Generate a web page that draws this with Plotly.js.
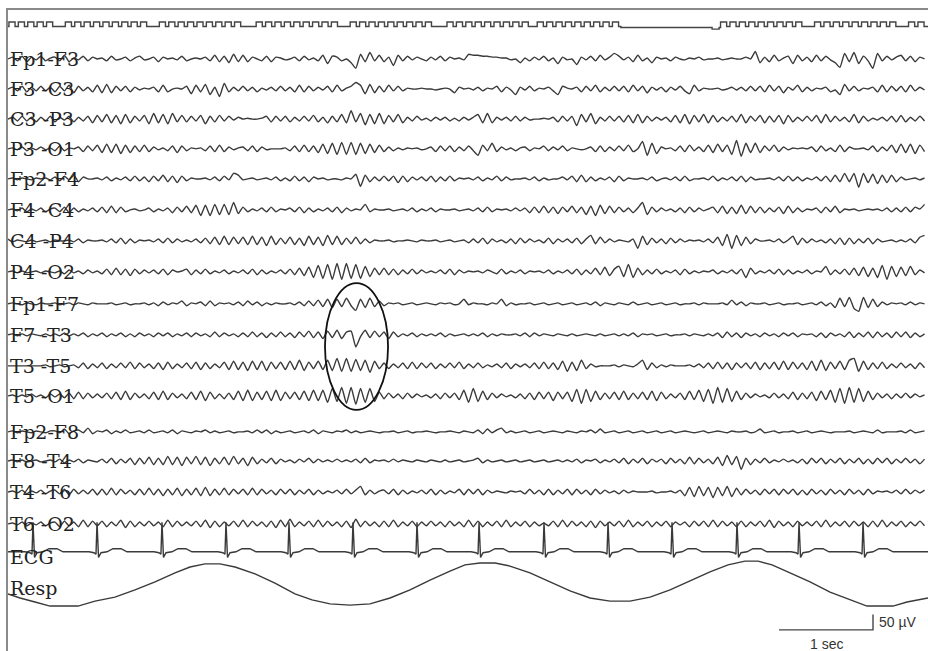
<!DOCTYPE html>
<html>
<head>
<meta charset="utf-8">
<script src="https://cdn.plot.ly/plotly-3.0.1.min.js"></script>
<style>
  html, body { margin: 0; padding: 0; background: #fff; }
  #chart { width: 928px; height: 651px; }
</style>
</head>
<body>
<div id="chart"></div>
<script>
// ---------- DATA (µV, sampled every 0.05 s) ----------
const sampleInterval = 0.05;

const channelLabels = ["Fp1-F3","F3 -C3","C3 -P3","P3 -O1","Fp2-F4","F4 -C4","C4 -P4","P4 -O2",
  "Fp1-F7","F7 -T3","T3 -T5","T5 -O1","Fp2-F8","F8 -T4","T4 -T6","T6 -O2"];

const fp1_f3 = [0,6,-6,9,-9,6,-3,9,-6,3, 6,-6,12,-9,3,-3,9,-6,6,0, 3,-6,9,-3,0,6,-6,3,9,-3, 0,6,-9,6,0,3,-3,9,-6,0,
 3,0,6,-6,12,-9,9,-12,15,-9, 12,-9,6,0,-6,9,-9,6,3,-3, 0,6,-6,9,-3,3,-6,12,-15,9, 6,-6,0,-12,-30,15,-9,21,-6,12,
 -9,6,-21,12,-6,9,-3,6,0,-6, 6,-3,9,-6,6,0,3,-3,15,12, 12,9,9,6,6,3,3,-3,0,-12, 3,-6,6,-3,9,-6,3,-15,6,-3,
 0,-18,6,-3,9,-6,12,-3,6,18, 9,-3,6,-9,12,-6,3,-12,6,0, 3,-6,6,0,-3,3,0,6,-3,0, 0,3,-3,0,3,0,0,6,0,24,
 -12,6,-9,12,-6,3,9,-15,12,-6, 6,-9,12,-6,9,-3,-12,-27,18,-9, 21,-15,9,-6,-30,18,-6,9,-3,6, 12,-6,9,-9,6,0];

const f3_c3 = [0,6,-6,9,-9,6,-6,9,-6,6, -9,9,-6,12,-12,9,-6,6,-9,12, -12,15,-12,9,-6,9,-9,6,-3,3, 0,6,-9,12,-9,0,3,0,9,-15,
 12,-9,15,-18,6,-24,18,-9,6,-6, 9,-6,6,-9,3,-3,6,-6,9,-6, 6,-9,12,-9,9,-6,6,-3,9,-9, 12,-6,3,9,21,12,-15,15,-12,9,
 -9,12,-6,9,-6,3,0,0,3,0, 0,-3,0,3,0,-12,6,0,3,-3, 6,-6,3,0,9,-9,6,-3,-18,6, -3,9,-6,3,0,6,-6,-18,9,3,
 0,6,-9,9,-6,12,-9,6,-6,9, -6,9,-9,12,-6,9,-12,6,-3,6, -9,6,-3,9,-6,-15,12,-6,3,0, 0,3,-3,0,6,-3,6,-6,9,-6,
 9,-9,12,-6,9,-12,6,-3,12,-9, 6,-6,3,0,6,-9,-3,-18,15,-6, 9,-6,3,0,6,-9,12,-9,9,-6, 9,-9,12,-6,6,-3];

const c3_p3 = [0,6,-6,9,-6,6,-9,6,-6,9, -9,6,-3,9,-9,6,-6,9,-12,12, -9,15,-12,12,-15,15,-12,9,-6,12, -15,18,-12,15,-15,18,-9,12,-9,9,
 -6,12,-15,9,-9,12,-6,9,-3,6, 0,3,0,0,3,9,-9,9,-6,9, -9,6,-6,9,-6,12,-9,6,-12,9, -9,15,-12,27,-9,18,-18,15,-15,18,
 -15,12,-9,15,-12,6,-6,9,-3,3, -6,6,-3,6,-6,3,-6,6,-3,6, 15,-12,18,-12,6,-3,6,-6,9,-6, 6,-3,0,0,3,0,6,-9,9,-6,
 9,-21,15,-9,18,-15,6,-6,9,-6, 9,-9,12,-12,15,-12,9,-6,6,-3, 6,-9,12,-12,15,-15,12,-9,15,-12, 12,-9,6,-6,9,-9,15,-12,9,-6,
 12,-12,9,-9,12,-15,12,-9,6,-6, 9,-6,12,-12,15,-9,9,-6,6,-9, 15,-12,9,-6,3,-3,6,-6,9,-9, 12,-9,6,-6,9,-6];

const p3_o1 = [0,3,-3,6,-6,3,-3,6,-3,3, -6,9,-6,3,0,6,-9,9,-6,12, -12,15,-12,15,-15,12,-12,9,-9,12, -9,6,-3,3,-6,9,-12,9,-6,3,
 0,3,-6,9,-9,12,-9,6,-3,3, 6,-6,9,-9,6,-3,0,0,0,3, -6,9,-9,12,-9,9,-12,15,-15,18, -18,21,-18,21,-18,18,-15,15,-12,12,
 -9,6,-6,3,-3,3,0,3,-3,0, 6,-9,9,-6,9,-9,6,-6,9,-6, -21,12,-6,18,-9,6,-3,3,-6,3, 6,-6,3,0,9,-6,6,-3,9,-6,
 3,0,-3,0,6,-9,9,-9,6,-6, 9,-6,12,-9,0,24,-21,18,-15,6, 0,3,-6,9,-9,12,-6,6,-9,12, -12,15,-9,12,-18,27,-24,18,-12,18,
 -12,9,-6,12,-9,6,-3,3,0,3, 0,6,-9,9,-6,3,-9,12,-9,6, 0,0,3,-3,9,-9,6,-6,12,-12, 15,-12,15,-15,12,-9];

const fp2_f4 = [0,3,-3,3,0,-3,3,0,3,-3, 6,-6,9,-3,12,-9,6,0,0,3, -3,6,-6,3,-3,6,-6,9,-6,6, -9,9,-6,12,-9,9,-12,9,-6,3,
 0,0,3,-3,6,-6,9,-3,18,12, -3,0,3,-3,0,3,-3,6,-6,3, -6,9,-6,6,-9,6,0,3,-3,0, 0,-3,3,0,15,-24,12,-9,6,-6,
 9,-6,9,-12,9,-9,6,-3,6,-6, 9,-9,6,-6,9,-6,3,0,3,-3, 6,-6,3,-3,9,-6,6,-3,0,0, 3,-3,6,-6,3,-3,0,0,6,-3,
 9,-9,12,-9,6,-6,3,-3,6,-9, 9,-6,3,0,0,3,-3,6,-6,0, 3,-3,6,-6,9,-6,0,0,3,-3, 9,-6,3,-3,6,-6,9,-9,6,-3,
 0,0,3,-3,6,-6,9,-6,6,-6, 3,-3,6,-6,9,-9,12,-9,18,-9, 18,-27,18,-12,15,-15,12,-12,12,-9, 6,-3,0,3,-3,3];

const f4_c4 = [0,3,-3,6,-6,3,-3,6,-6,3, 6,-6,9,-9,6,-6,3,-3,6,-6, 9,-9,12,-9,9,-6,0,3,-3,0, 6,-6,3,-3,6,-9,9,-6,12,-9,
 15,-18,15,-18,18,-15,18,-15,24,-12, 9,-6,3,-3,6,-6,9,-6,3,0, 6,-6,9,-9,6,-6,3,-3,6,-6, 9,-9,6,-3,3,0,18,-6,3,0,
 0,3,-3,0,3,-3,6,-6,3,-3, 6,-6,3,0,0,3,-3,0,3,-3, 6,-6,9,-6,3,0,3,-3,6,-3, 6,-9,9,-9,12,-9,9,-12,9,-6,
 12,-9,9,-15,12,-18,15,-12,12,-9, 9,-6,6,-9,6,24,-15,9,-6,6, -3,3,-6,6,-9,9,-6,6,-3,3, 9,-9,12,-12,9,-12,15,-12,12,-9,
 9,-9,6,-6,9,-12,12,-9,6,-6, 3,0,6,-9,9,-6,12,-9,3,0, 3,-3,0,3,0,3,-3,6,-6,6, -6,9,-6,9,3,18];

const c4_p4 = [6,-3,3,0,-3,3,-3,0,3,-3, 3,0,0,3,-3,6,-6,3,0,0, 3,-3,6,-6,9,-9,6,-6,3,0, 3,-3,6,-6,9,-6,6,-3,3,-3,
 6,-6,9,-9,12,-12,15,-12,12,-9, 12,-12,15,-12,12,-15,15,-12,9,-9, 12,-12,9,-15,15,-12,12,-15,18,-12, 15,-12,9,-9,12,-9,6,-6,3,0,
 0,3,-3,0,0,3,0,-3,3,0, 0,3,-3,0,3,-3,0,3,-6,6, -6,9,-9,6,-3,3,-6,6,-9,9, -6,6,-3,3,-6,9,-9,6,-3,6,
 -6,9,-9,6,18,-9,12,-6,6,-3, 3,0,-3,6,-24,15,-12,9,-6,6, -9,9,-6,6,-3,3,0,3,-3,6, -6,12,-15,21,-24,18,-15,12,-9,6,
 0,0,3,-3,6,-6,3,15,-12,9, -6,6,-3,3,-6,6,-9,9,-12,9, -9,6,-6,9,-9,6,-3,0,3,-3, 3,-3,6,-6,12,18];

const p4_o2 = [0,3,-3,3,-3,0,3,-3,3,0, -3,3,-6,6,-3,3,-6,6,-3,3, -6,9,-9,12,-9,9,-12,9,-6,6, -3,6,-6,9,-9,6,0,3,9,-9,
 6,-6,9,-6,3,-3,6,-6,3,-3, 6,-6,9,-9,6,-6,3,-3,6,-6, 9,-9,12,-12,15,-18,21,-21,24,-24, 27,-24,27,-21,24,-21,18,-15,12,-9,
 12,-9,9,-9,6,-6,9,-6,6,-3, 3,-3,6,-6,9,-9,6,-3,3,0, 3,-3,6,0,-6,9,-6,3,-3,6, -6,3,0,3,-3,6,-6,3,-3,6,
 -6,9,-9,6,-6,12,-9,15,-12,9, 18,-15,24,-18,12,-9,6,-6,9,-6, 3,-3,6,-9,9,-6,3,-3,3,0, 6,-6,3,-3,6,-6,9,-18,12,-6,
 3,-3,6,-6,9,-9,6,-6,3,-3, 6,-6,3,0,18,-9,6,-6,9,-9, 12,-12,15,-15,12,-18,21,-24,18,-15, 15,-12,18,-9,6,-3];

const fp1_f7 = [0,3,0,-3,3,0,-3,3,0,0, 3,-3,0,3,-3,3,0,-3,3,0, 0,0,3,-3,0,3,-3,0,0,3, -3,3,-6,6,-3,3,0,9,-6,3,
 0,6,-6,9,-6,3,0,3,-3,6, -6,9,-3,6,-6,3,-3,3,0,0, 3,-3,6,-6,9,-6,12,-9,15,-12, 15,-9,18,-6,-21,15,-12,18,-9,9,
 -6,3,0,3,-3,0,3,-3,0,3, 0,-3,3,0,3,-3,0,15,-3,3, 0,0,-3,3,0,15,-6,3,-3,0, 0,3,-3,0,3,-3,0,3,-3,0,
 3,-3,0,3,-3,6,-6,3,0,-3, 3,0,-3,6,-3,0,3,-3,0,3, -3,0,3,-3,0,0,3,-3,3,0, 0,0,3,-3,12,-3,6,-6,3,0,
 0,3,-3,0,3,-3,0,0,3,-3, 0,3,-3,6,-6,3,-12,18,-9,21, -15,-24,21,-12,15,-9,6,-3,3,0, 3,-3,6,-3,3,0];

const f7_t3 = [0,3,-3,3,-3,3,0,-3,3,-3, 3,-3,6,-3,3,-3,6,-6,3,-3, 6,-6,3,-3,6,-6,3,-6,6,-3, 3,-6,6,-3,6,-6,3,-3,6,-6,
 6,-3,3,-6,9,-6,6,-3,3,-6, 6,-6,9,-6,6,-9,6,-6,9,-6, 6,-9,9,-6,12,-9,9,-12,12,-9, 15,-12,9,12,-39,-6,15,-9,12,-6,
 9,-12,9,-6,3,-3,6,-6,3,-3, 3,-3,6,-6,3,-3,0,3,-3,3, -3,6,-6,3,-3,3,0,0,3,-3, 6,-6,6,-3,3,0,-3,3,0,-3,
 3,-3,0,3,0,-3,3,-3,0,3, -3,3,-3,6,-6,3,0,3,-3,0, 3,-3,0,0,3,-3,3,0,-3,3, -3,6,-9,9,-6,6,-9,6,-3,3,
 -6,6,-3,3,-6,6,-3,6,-6,3, 0,3,-6,6,-9,6,-3,3,-6,9, -9,6,-6,9,-9,9,-6,6,-9,9, -6,9,-9,6,-6,3];

const t3_t5 = [0,0,0,0,0,0,0,0,3,-3, 0,3,-3,0,3,-6,9,-9,6,-6, 9,-9,6,-6,9,-6,12,-9,9,-6, 6,-9,9,-12,12,-9,6,-6,9,-9,
 12,-12,9,-9,6,-6,12,-12,15,-12, 12,-15,15,-12,15,-15,12,-9,12,-12, 15,-12,18,-15,12,-9,15,-12,18,-15, 24,-18,24,-18,21,-15,18,-21,15,-9,
 9,-9,6,-6,9,-9,12,-9,9,-6, 9,-9,6,-6,9,-6,12,-9,6,-6, 9,-6,3,-3,6,-6,9,-9,6,-3, 6,-6,9,-9,12,-9,9,-12,15,-18,
 12,-15,18,-9,6,-3,0,0,0,3, -3,3,0,-3,6,18,-12,9,-6,3, -3,3,0,0,0,3,-3,6,-6,9, -9,12,-9,9,-12,9,-6,9,-9,12,
 -12,9,-9,12,-12,15,-12,12,-9,9, -12,15,-15,18,-15,12,-9,15,-12,18, 24,-18,15,-12,9,-9,12,-9,6,-6, 9,-6,6,-9,9,-6];

const t5_o1 = [0,3,-3,3,-3,6,-3,3,-6,6, -3,6,-6,9,-9,12,-9,9,-6,6, -6,9,-9,12,-12,15,-12,9,-6,6, -9,12,-12,15,-12,9,-6,6,-9,12,
 -12,15,-15,12,-9,6,-9,9,-12,15, -15,18,-15,12,-12,15,-15,18,-15,12, -9,12,-12,15,-15,18,-15,18,-21,24, -18,27,-24,27,-27,24,-21,24,-18,12,
 -9,9,-6,6,-9,9,-6,6,-3,3, -6,6,-9,9,-6,9,-12,18,-21,24, -18,15,-12,9,-6,6,-3,3,-6,6, -9,9,-12,12,-9,12,-15,12,-9,12,
 -18,21,-24,21,-18,15,-12,9,-9,12, -12,15,-12,9,-9,12,-12,15,-15,12, -9,6,-6,9,-12,15,-12,18,-18,21, -24,27,-21,24,-18,15,-12,9,-6,6,
 -3,3,-6,9,-6,6,-9,12,-12,9, -9,12,-15,15,-12,18,-21,24,-24,27, -21,24,-18,15,-12,9,-6,6,-9,6, -6,9,-6,6,-3,3];

const fp2_f8 = [0,3,-3,3,0,-3,3,0,-3,3, 3,-3,9,-6,3,6,-3,12,-6,3, 0,6,-6,3,-3,6,-3,0,3,-3, 6,-3,0,3,-3,6,-6,3,0,-3,
 3,0,6,-3,3,-3,0,3,-3,0, 0,3,-3,6,-3,6,-6,3,-3,0, 3,-3,0,3,-3,6,-6,3,0,-3, 3,0,6,-3,3,-3,0,3,0,-3,
 0,0,3,-3,0,3,-3,0,0,3, 0,-3,0,0,3,0,-3,3,0,-3, 6,-6,9,-3,6,12,-3,3,-3,0, 3,-3,0,3,-3,0,3,0,-3,3,
 0,-3,3,0,6,-3,9,-3,0,3, -3,0,3,-3,0,3,-3,0,3,-3, 0,3,-3,0,3,0,-3,0,3,-3, 0,3,0,-3,3,0,0,3,-3,0,
 9,-3,0,3,-3,0,0,3,-3,0, 3,-3,0,3,0,-3,0,0,0,3, -3,0,3,0,-3,6,-3,0,0,0, 3,-3,6,-3,0,3];

const f8_t4 = [0,3,-3,3,-3,0,3,-3,0,3, -3,6,-6,3,-3,6,-6,3,0,-3, 6,-6,9,-9,6,-6,9,-12,9,-9, 12,-12,9,-12,15,-12,12,-15,12,-9,
 15,-12,12,-15,9,-9,12,-12,15,-9, 9,-15,12,-9,6,-6,9,-9,6,-3, 3,-6,6,-3,9,-6,6,-3,3,-3, 6,-3,3,-3,6,-6,9,-6,3,0,
 3,-3,6,-3,3,0,-3,3,0,-3, 3,0,-3,3,-3,0,3,-3,0,3, 9,-6,3,-3,0,3,-3,0,3,-3, 0,3,-3,0,3,-3,0,3,-3,3,
 -3,6,-6,3,0,6,-6,3,-3,6, -6,9,-9,6,-6,9,-9,6,-3,6, -9,9,-6,6,-9,12,-9,9,-6,6, -9,12,-15,18,-12,15,-27,9,-12,6,
 -6,9,-6,3,-3,6,-3,3,-6,6, -9,9,-6,9,-9,6,-6,9,-9,6, -6,9,-9,6,-9,9,-6,9,-9,6, -6,9,-6,6,-9,6];

const t4_t6 = [0,3,-3,6,-6,3,-3,6,-6,3, 6,-6,9,-9,9,-6,6,-6,9,-9, 9,-9,12,-9,9,-6,6,-9,9,-9, 12,-9,9,-12,9,-9,12,-12,9,-9,
 12,-12,15,-12,9,-9,12,-9,9,-6, 9,-9,12,-9,9,-6,6,-9,9,-6, 9,-9,6,-6,9,-9,6,-6,3,-3, 6,-6,9,-6,6,18,-9,6,-6,3,
 6,-6,9,-9,6,-6,3,-3,6,-6, 9,-9,6,-6,3,-3,9,-9,9,-6, 9,-9,6,-3,3,0,-3,3,0,3, -6,9,-6,6,-9,9,-9,6,-6,9,
 -9,9,-6,6,-9,9,-6,6,-3,3, -6,6,-3,3,0,0,0,3,-3,0, 0,3,-3,6,-12,15,-15,18,-12,15, -18,15,-12,18,-15,12,-9,9,-6,6,
 -9,9,-6,9,-9,9,-6,9,-9,6, -9,9,-6,6,-9,9,-6,6,-9,9, -6,6,-9,9,-6,3,0,3,-3,6, -6,9,-6,6,-3,6];

const t6_o2 = [0,3,-3,6,-6,3,-3,6,-6,3, 6,-9,9,-6,6,-9,12,-9,9,-6, 9,-9,6,-6,12,-12,9,-9,6,-6, 9,-6,6,-9,12,-9,9,-6,6,-6,
 9,-9,12,-12,9,-9,6,-6,9,-9, 12,-9,9,-6,6,-9,9,-12,12,-9, 15,-9,6,-6,9,-9,12,-9,9,-6, 6,-9,9,-12,15,-9,9,-6,6,-9,
 9,-9,12,-9,6,-6,9,-9,6,-6, 9,-6,6,-9,9,-6,6,-9,12,-9, 9,-9,6,-6,9,-9,12,-9,6,-6, 9,-9,6,-6,3,-6,9,-9,12,-9,
 9,-6,6,-9,9,-12,9,-6,6,-6, 9,-9,12,-9,6,-6,9,-9,6,-6, 9,-9,6,-3,6,-9,9,-6,9,-9, 12,-9,9,-6,6,-9,9,-9,6,-6,
 9,-9,12,-12,9,-6,6,-9,9,-6, 6,-6,9,-9,12,-9,6,-6,9,-9, 9,-6,6,-9,9,-9,12,-9,6,-6, 9,-9,6,-6,9,-6];

const eegSeries = [fp1_f3, f3_c3, c3_p3, p3_o1, fp2_f4, f4_c4, c4_p4, p4_o2,
  fp1_f7, f7_t3, t3_t5, t5_o1, fp2_f8, f8_t4, t4_t6, t6_o2];

// ECG (s, µV)
const ecgT = [0, 0.181,0.234,0.255,0.266,0.282,0.309,0.372,0.436,0.521,0.585,
 0.862,0.915,0.936,0.947,0.963,0.990,1.053,1.117,1.202,1.266,
 1.553,1.606,1.627,1.638,1.654,1.681,1.744,1.808,1.893,1.957,
 2.234,2.287,2.308,2.319,2.335,2.362,2.425,2.489,2.574,2.638,
 2.904,2.957,2.978,2.989,3.005,3.032,3.095,3.159,3.244,3.308,
 3.585,3.638,3.659,3.670,3.686,3.713,3.776,3.840,3.925,3.989,
 4.266,4.319,4.340,4.351,4.367,4.394,4.457,4.521,4.606,4.670,
 4.926,4.979,5.000,5.011,5.027,5.054,5.117,5.181,5.266,5.330,
 5.617,5.670,5.691,5.702,5.718,5.745,5.808,5.872,5.957,6.021,
 6.298,6.351,6.372,6.383,6.399,6.426,6.489,6.553,6.638,6.702,
 6.979,7.032,7.053,7.064,7.080,7.107,7.170,7.234,7.319,7.383,
 7.670,7.723,7.744,7.755,7.771,7.798,7.861,7.925,8.010,8.074,
 8.330,8.383,8.404,8.415,8.431,8.458,8.521,8.585,8.670,8.734,
 9.011,9.064,9.085,9.096,9.112,9.139,9.202,9.266,9.351,9.415,
 9.787];
const ecgV = [0, 0,-3,-8,95,-18,-3,0,10,10,0,
 0,-3,-8,95,-18,-3,0,10,10,0,
 0,-3,-8,95,-18,-3,0,10,10,0,
 0,-3,-8,95,-18,-3,0,10,10,0,
 0,-3,-8,95,-18,-3,0,10,10,0,
 0,-3,-8,95,-18,-3,0,10,10,0,
 0,-3,-8,95,-18,-3,0,10,10,0,
 0,-3,-8,95,-18,-3,0,10,10,0,
 0,-3,-8,95,-18,-3,0,10,10,0,
 0,-3,-8,95,-18,-3,0,10,10,0,
 0,-3,-8,95,-18,-3,0,10,10,0,
 0,-3,-8,95,-18,-3,0,10,10,0,
 0,-3,-8,95,-18,-3,0,10,10,0,
 0,-3,-8,95,-18,-3,0,10,10,0,
 0];

// Respiration (s, arbitrary units)
const respT = [0,0.128,0.287,0.447,0.745,0.926,1.138,1.351,1.564,1.777,1.936,2.096,2.255,2.415,2.628,2.840,3.053,3.234,3.426,3.638,
 3.851,4.064,4.277,4.489,4.702,4.862,5.021,5.181,5.340,5.553,5.766,5.979,6.191,6.404,6.617,6.830,7.043,7.255,7.468,7.660,
 7.840,7.979,8.128,8.319,8.532,8.745,8.957,9.138,9.415,9.564,9.787];
const respV = [-29,-42,-55,-68,-68,-52,-39,-16,10,39,58,68,68,58,36,6,-29,-48,-61,-65,
 -61,-42,-16,16,45,65,71,71,61,39,10,-19,-42,-52,-52,-39,-16,13,42,65,
 77,77,65,39,10,-23,-48,-68,-68,-55,-42];

// Timing marker: pulse rise times (s), pulse width, and the pause segment
const markerRise = [0.01,0.11,0.21,0.31,0.41,
 0.61,0.71,0.81,0.91,1.01,1.11,1.21,1.31,1.41,
 1.61,1.71,1.81,1.91,2.01,2.11,2.21,2.31,2.41,
 2.64,2.74,2.84,2.94,3.04,3.14,3.24,3.34,3.44,
 3.64,3.74,3.84,3.94,4.04,4.14,4.24,4.34,4.44,
 4.67,4.77,4.87,4.97,5.07,5.17,5.27,5.37,5.47,
 5.63,5.73,5.83,5.93,6.03,6.13,6.23,6.33,6.43,
 7.58,7.68,7.78,7.88,7.98,8.08,8.18,8.28,8.38,
 8.58,8.68,8.78,8.88,8.98,9.08,9.18,9.28,9.38,
 9.58,9.68];
const markerPulseWidth = 0.065;
const markerPauseT = [6.52, 7.49, 7.565];
const markerPauseV = [-0.25, -0.6, -0.25];

// Calibration
const scaleSeconds = 1;
const scaleMicrovolts = 50;

// ---------- LAYOUT CONSTANTS ----------
const rowOffsets = [-158,-255,-352,-448,-545,-645,-745,-845,-948,-1048,-1148,-1245,-1361,-1455,-1555,-1658];
const ecgOffset = -1748, respOffset = -1855, markOffset = -53, markAmp = 14.5;
const ecgLabelY = -1766, respLabelY = -1866;
const traceColor = '#3a3a3a';

const traces = [];
eegSeries.forEach((vals, k) => {
  traces.push({
    x: vals.map((_, i) => i * sampleInterval),
    y: vals.map(v => rowOffsets[k] + v),
    mode: 'lines', line: {color: traceColor, width: 1.4, shape: 'spline', smoothing: 0.5},
    hoverinfo: 'skip', showlegend: false
  });
});
traces.push({x: ecgT, y: ecgV.map(v => ecgOffset + v), mode: 'lines',
  line: {color: traceColor, width: 1.4}, hoverinfo: 'skip', showlegend: false});
traces.push({x: respT, y: respV.map(v => respOffset + v), mode: 'lines',
  line: {color: traceColor, width: 1.4}, hoverinfo: 'skip', showlegend: false});

// marker step path
const mPts = [[0, 0]];
markerRise.forEach(r => { mPts.push([r, 1]); mPts.push([r + markerPulseWidth, 0]); });
markerPauseT.forEach((t, i) => mPts.push([t, markerPauseV[i]]));
mPts.sort((a, b) => a[0] - b[0]);
mPts.push([9.787, mPts[mPts.length - 1][1]]);
traces.push({x: mPts.map(p => p[0]), y: mPts.map(p => markOffset + p[1] * markAmp), mode: 'lines',
  line: {color: '#444', width: 1.4, shape: 'hv'}, hoverinfo: 'skip', showlegend: false});

// calibration bar
const barX0 = 8.202, barY0 = -2000;
traces.push({x: [barX0, barX0 + scaleSeconds, barX0 + scaleSeconds],
  y: [barY0, barY0, barY0 + scaleMicrovolts], mode: 'lines',
  line: {color: '#444', width: 1.4}, hoverinfo: 'skip', showlegend: false});

const labelFont = {family: 'DejaVu Serif', size: 19, color: '#222'};
const annotations = channelLabels.map((txt, k) => ({
  x: 0, y: rowOffsets[k], xref: 'x', yref: 'y', text: txt, showarrow: false,
  xanchor: 'left', yanchor: 'middle', xshift: 0, font: labelFont
}));
annotations.push({x: 0, y: ecgLabelY, xref: 'x', yref: 'y', text: 'ECG', showarrow: false,
  xanchor: 'left', yanchor: 'middle', xshift: 0, font: labelFont});
annotations.push({x: 0, y: respLabelY, xref: 'x', yref: 'y', text: 'Resp', showarrow: false,
  xanchor: 'left', yanchor: 'middle', xshift: 0, font: labelFont});
annotations.push({x: barX0 + scaleSeconds / 2, y: -2045, xref: 'x', yref: 'y', text: scaleSeconds + ' sec',
  showarrow: false, xanchor: 'center', yanchor: 'middle',
  font: {family: 'Liberation Sans', size: 14, color: '#333'}});
annotations.push({x: barX0 + scaleSeconds, y: -1974, xref: 'x', yref: 'y', text: scaleMicrovolts + ' µV',
  showarrow: false, xanchor: 'left', yanchor: 'middle', xshift: 4,
  font: {family: 'Liberation Sans', size: 14, color: '#333'}});

const layout = {
  width: 928, height: 651,
  margin: {l: 8, r: 0, t: 10, b: 0, pad: 0},
  paper_bgcolor: '#fff', plot_bgcolor: '#fff',
  xaxis: {range: [0, 9.787], side: 'top', showline: true, linecolor: '#8a8a8a', linewidth: 2,
    showgrid: false, zeroline: false, showticklabels: false, ticks: '', fixedrange: true},
  yaxis: {range: [-2068, 0], showline: true, linecolor: '#8a8a8a', linewidth: 2,
    showgrid: false, zeroline: false, showticklabels: false, ticks: '', fixedrange: true},
  shapes: [{type: 'circle', xref: 'x', yref: 'y', x0: 3.372, x1: 4.043, y0: -1290, y1: -881,
    line: {color: '#111', width: 1.8}}],
  annotations: annotations,
  showlegend: false
};

Plotly.newPlot('chart', traces, layout, {staticPlot: true, displayModeBar: false});
</script>
</body>
</html>
